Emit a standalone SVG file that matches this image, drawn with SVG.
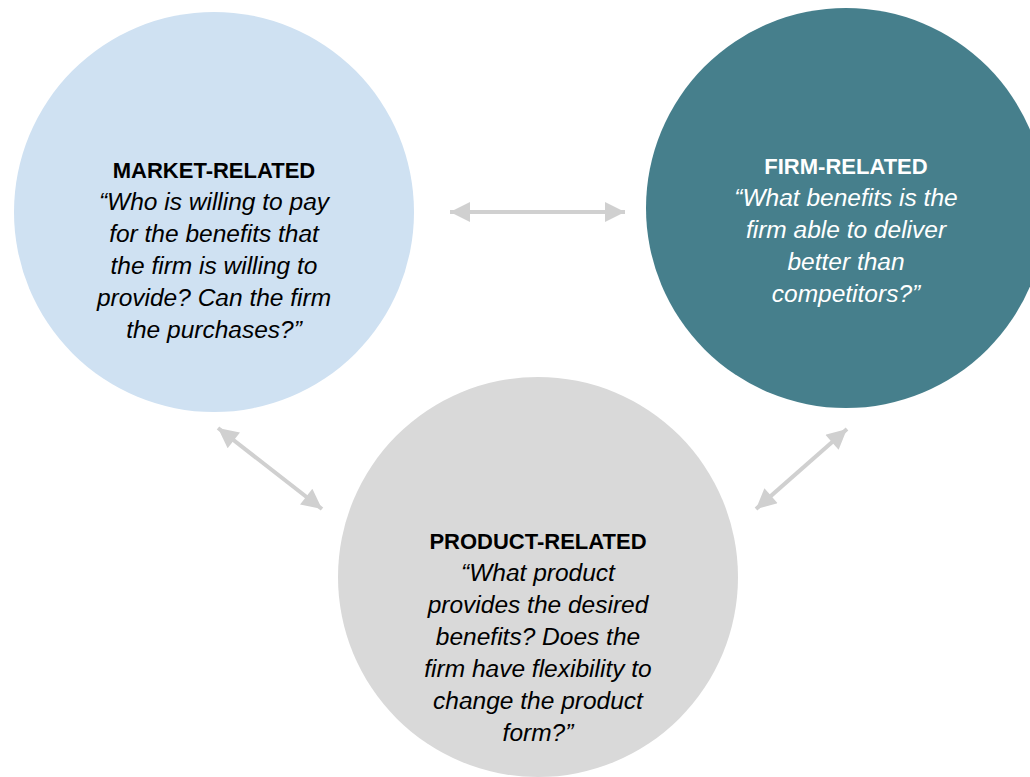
<svg xmlns="http://www.w3.org/2000/svg" width="1030" height="777" viewBox="0 0 1030 777">
<style>
.t{font-family:"Liberation Sans",Arial,sans-serif;text-anchor:middle;fill:#000}
.h{font-weight:bold;font-size:22px}
.i{font-style:italic;font-size:24.5px}
.w{fill:#fff}
.c{stroke:#d0d0d0;stroke-width:4;fill:none}
</style>
<defs>
<marker id="ah" viewBox="0 0 10 10" refX="10" refY="5" markerWidth="6.5" markerHeight="5" markerUnits="strokeWidth" orient="auto-start-reverse">
<path d="M0,0 L10,5 L0,10 Z" fill="#d0d0d0"/>
</marker>
</defs>
<rect width="1030" height="777" fill="#fff"/>
<g id="market">
<circle cx="214" cy="212" r="200" fill="#cfe1f2"/>
<text class="t h" x="214" y="178">MARKET-RELATED</text>
<text class="t i" x="214" y="210">“Who is willing to pay</text>
<text class="t i" x="214" y="242">for the benefits that</text>
<text class="t i" x="214" y="274">the firm is willing to</text>
<text class="t i" x="214" y="306">provide? Can the firm</text>
<text class="t i" x="214" y="338">the purchases?”</text>
</g>
<g id="firm">
<circle cx="846" cy="208" r="200" fill="#467f8c"/>
<text class="t h w" x="846" y="174">FIRM-RELATED</text>
<text class="t i w" x="846" y="206">“What benefits is the</text>
<text class="t i w" x="846" y="238">firm able to deliver</text>
<text class="t i w" x="846" y="270">better than</text>
<text class="t i w" x="846" y="302">competitors?”</text>
</g>
<g id="product">
<circle cx="538" cy="577" r="200" fill="#d9d9d9"/>
<text class="t h" x="538" y="549">PRODUCT-RELATED</text>
<text class="t i" x="538" y="581">“What product</text>
<text class="t i" x="538" y="613">provides the desired</text>
<text class="t i" x="538" y="645">benefits? Does the</text>
<text class="t i" x="538" y="677">firm have flexibility to</text>
<text class="t i" x="538" y="709">change the product</text>
<text class="t i" x="538" y="741">form?”</text>
</g>
<g id="connectors">
<line class="c" x1="450" y1="212" x2="625" y2="212" marker-start="url(#ah)" marker-end="url(#ah)"/>
<line class="c" x1="218" y1="428" x2="322" y2="509" marker-start="url(#ah)" marker-end="url(#ah)"/>
<line class="c" x1="847" y1="429" x2="756" y2="509" marker-start="url(#ah)" marker-end="url(#ah)"/>
</g>
</svg>
